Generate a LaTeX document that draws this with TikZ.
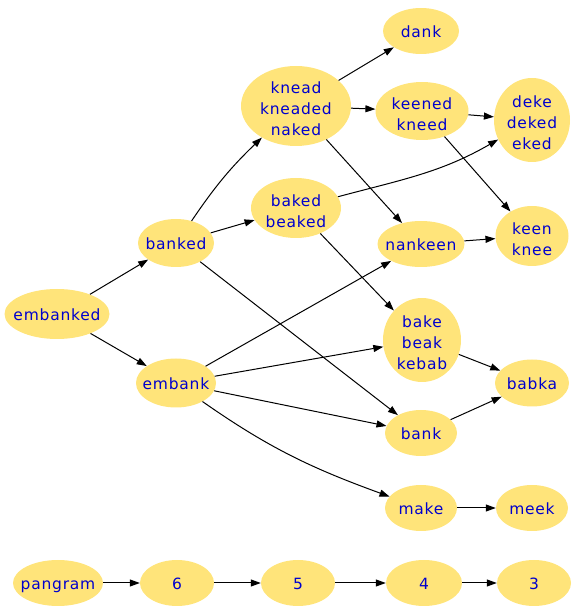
\documentclass[tikz,border=0pt]{standalone}
\usepackage{fontspec}
\setmainfont[LetterSpace=5]{DejaVu Sans}
\usetikzlibrary{shapes.geometric,arrows.meta}
\definecolor{nodefill}{RGB}{255,228,122}
\definecolor{textblue}{RGB}{0,0,205}
\begin{document}
\begin{tikzpicture}[x=1pt,y=1pt,
  wnode/.style={ellipse,fill=nodefill,draw=none,inner xsep=-10pt,inner ysep=-6pt,align=center,
    text=textblue,font=\fontsize{15.5}{21}\selectfont,minimum width=74pt,minimum height=46pt},
  oneline/.style={text height=14pt,text depth=1.5pt},
  twoline/.style={text height=39pt,text depth=0.5pt},
  threeline/.style={text height=60pt,text depth=0.5pt},
  edge/.style={draw=black,line width=1pt,-{Triangle[length=10pt,width=7pt]}}]
\useasboundingbox (0,0) rectangle (577,614);
\node[wnode,oneline,minimum width=105pt,minimum height=50pt] (embanked) at (57,300) {embanked};
\node[wnode,oneline,minimum width=76pt,minimum height=48pt] (banked) at (176,371) {banked};
\node[wnode,oneline,minimum width=80pt,minimum height=49pt] (embank) at (176,231) {embank};
\node[wnode,threeline,minimum width=110pt,minimum height=80pt] (knead) at (296,508) {knead\\kneaded\\naked};
\node[wnode,twoline,minimum width=90pt,minimum height=60pt] (baked) at (296,406) {baked\\beaked};
\node[wnode,oneline,minimum width=76pt,minimum height=46pt] (dank) at (421,583) {dank};
\node[wnode,twoline,minimum width=93pt,minimum height=58pt] (keened) at (422,503) {keened\\kneed};
\node[wnode,threeline,minimum width=76pt,minimum height=84pt] (deke) at (532,494) {deke\\deked\\eked};
\node[wnode,oneline,minimum width=87pt,minimum height=46pt] (nankeen) at (421,370) {nankeen};
\node[wnode,twoline,minimum width=73pt,minimum height=60pt] (keen) at (532,378) {keen\\knee};
\node[wnode,threeline,minimum width=78pt,minimum height=84pt] (bake) at (422,274) {bake\\beak\\kebab};
\node[wnode,oneline,minimum width=74pt,minimum height=47pt] (babka) at (532,231) {babka};
\node[wnode,oneline,minimum width=72pt,minimum height=46pt] (bank) at (421,181) {bank};
\node[wnode,oneline,minimum width=72pt,minimum height=46pt] (make) at (421,106) {make};
\node[wnode,oneline,minimum width=72pt,minimum height=46pt] (meek) at (532,106) {meek};
\node[wnode,oneline,minimum width=90pt,minimum height=46pt] (pangram) at (58,31) {pangram};
\node[wnode,oneline,minimum width=74pt,minimum height=46pt] (six) at (177,31) {6};
\node[wnode,oneline,minimum width=74pt,minimum height=46pt] (five) at (298,31) {5};
\node[wnode,oneline,minimum width=76pt,minimum height=46pt] (four) at (424,31) {4};
\node[wnode,oneline,minimum width=74pt,minimum height=46pt] (three) at (534,31) {3};

\draw[edge] (embanked) -- (banked);
\draw[edge] (embanked) -- (embank);
\draw[edge] (banked) to[bend left=6] (knead);
\draw[edge] (banked) -- (baked);
\draw[edge] (banked) -- (bank);
\draw[edge] (embank) -- (nankeen);
\draw[edge] (embank) -- (bake);
\draw[edge] (embank) -- (bank);
\draw[edge] (embank) to[out=-35,in=160] (make);
\draw[edge] (knead) -- (dank);
\draw[edge] (knead) -- (keened);
\draw[edge] (knead) -- (nankeen);
\draw[edge] (baked) to[out=15,in=210] (deke);
\draw[edge] (baked) -- (bake);
\draw[edge] (keened) -- (deke);
\draw[edge] (keened) -- (keen);
\draw[edge] (nankeen) -- (keen);
\draw[edge] (bake) -- (babka);
\draw[edge] (bank) -- (babka);
\draw[edge] (make) -- (meek);
\draw[edge] (pangram) -- (six);
\draw[edge] (six) -- (five);
\draw[edge] (five) -- (four);
\draw[edge] (four) -- (three);
\end{tikzpicture}
\end{document}
